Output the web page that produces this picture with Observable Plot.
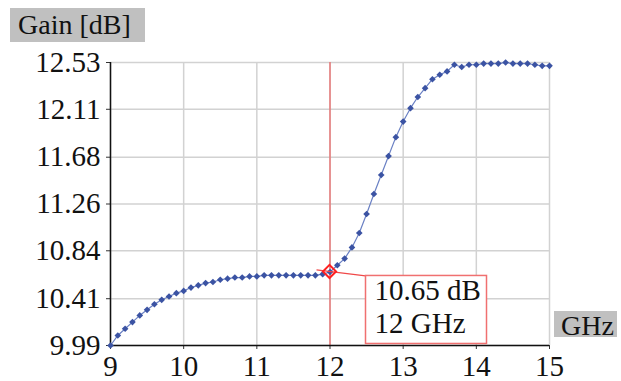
<!DOCTYPE html>
<html><head><meta charset="utf-8">
<script src="https://cdn.jsdelivr.net/npm/d3@7"></script>
<script src="https://cdn.jsdelivr.net/npm/@observablehq/plot@0.6"></script>
<style>html,body{margin:0;padding:0;background:#fff;} #chart svg{display:block;overflow:visible} #chart svg text{font-family:"Liberation Serif","Times New Roman",serif;}</style>
</head><body><div id="chart"></div>
<script>
const freqGHz = [9.0,9.1,9.2,9.3,9.4,9.5,9.6,9.7,9.8,9.9,
  10.0,10.1,10.2,10.3,10.4,10.5,10.6,10.7,10.8,10.9,
  11.0,11.1,11.2,11.3,11.4,11.5,11.6,11.7,11.8,11.9,
  12.0,12.1,12.2,12.3,12.4,12.5,12.6,12.7,12.8,12.9,
  13.0,13.1,13.2,13.3,13.4,13.5,13.6,13.7,13.8,13.9,
  14.0,14.1,14.2,14.3,14.4,14.5,14.6,14.7,14.8,14.9,15.0];
const gainDb = [9.99,10.08,10.14,10.20,10.26,10.31,10.36,10.40,10.43,10.46,
  10.48,10.51,10.53,10.55,10.56,10.58,10.59,10.60,10.60,10.61,
  10.61,10.62,10.62,10.62,10.62,10.62,10.62,10.62,10.62,10.63,
  10.65,10.71,10.77,10.87,11.00,11.17,11.35,11.52,11.69,11.86,
  12.00,12.12,12.22,12.30,12.38,12.42,12.45,12.51,12.49,12.51,
  12.51,12.52,12.52,12.52,12.53,12.52,12.52,12.52,12.51,12.50,12.50];
const xTicks = [9,10,11,12,13,14,15];
const yTicks = [9.99,10.41,10.84,11.26,11.68,12.11,12.53];
const markerFreq = 12;
const markerGain = 10.65;
const calloutLines = ["10.65 dB","12 GHz"];
const yTitle = "Gain [dB]";
const xTitle = "GHz";

const data = freqGHz.map((f,i)=>({f, g: gainDb[i]}));
const serif = "Liberation Serif, serif";

const chart = Plot.plot({
  width:621, height:381,
  marginLeft:110, marginRight:72, marginTop:62, marginBottom:36,
  style:{fontFamily:serif, fontSize:"29px", color:"#111", background:"#fff"},
  x:{domain:[9,15]},
  y:{domain:[9.99,12.53]},
  marks:[
    Plot.gridX(xTicks,{stroke:"#d2d2d2", strokeOpacity:1, strokeWidth:1.5}),
    Plot.gridY(yTicks,{stroke:"#d2d2d2", strokeOpacity:1, strokeWidth:1.5}),
    Plot.ruleX([markerFreq],{stroke:"#f04848", strokeWidth:1}),
    Plot.axisX(xTicks,{tickSize:4, tickPadding:6, label:null, tickFormat:d=>String(d), stroke:"#333"}),
    Plot.axisY(yTicks,{tickSize:4, tickPadding:6, label:null, tickFormat:d3.format(".2f"), stroke:"#333"}),
    Plot.ruleX([9],{stroke:"#111", strokeWidth:1.5}),
    Plot.ruleY([9.99],{stroke:"#111", strokeWidth:1.5}),
    Plot.line(data,{x:"f", y:"g", stroke:"#6a80c4", strokeWidth:1.2}),
    Plot.dot(data,{x:"f", y:"g", symbol:"diamond2", r:3, fill:"#3b53a3", stroke:"none"})
  ]
});
document.getElementById("chart").appendChild(chart);

const svg = d3.select(chart);
const sx = chart.scale("x"), sy = chart.scale("y");
const px = sx.apply(markerFreq), py = sy.apply(markerGain);
const bx = px + 36, by = py + 4, bw = 121, bh = 68;
const g = svg.append("g").attr("text-anchor","start");
g.append("path")
  .attr("d", `M${px-13},${py-1.5}L${bx},${by+0.5}`)
  .attr("stroke","#f04848").attr("stroke-width",1.2).attr("fill","none");
g.append("path")
  .attr("d", d3.symbol(d3.symbolDiamond2, 110)())
  .attr("transform", `translate(${px},${py})`)
  .attr("fill","none").attr("stroke","#ff2020").attr("stroke-width",2);
g.append("rect").attr("x",bx).attr("y",by).attr("width",bw).attr("height",bh)
  .attr("fill","#fff").attr("stroke","#f07070").attr("stroke-width",1.5);
calloutLines.forEach((t,i)=>{
  g.append("text").attr("x",bx+9).attr("y",by+25+i*33).attr("text-anchor","start")
    .style("font-size","29px").attr("fill","#111").text(t);
});
// axis title boxes
const yt = svg.append("g").attr("text-anchor","start");
yt.append("rect").attr("x",10).attr("y",8).attr("width",135).attr("height",34).attr("fill","#c0c0c0");
yt.append("text").attr("x",18).attr("y",34).attr("text-anchor","start").style("font-size","28px").attr("fill","#111").text(yTitle);
const xt = svg.append("g").attr("text-anchor","start");
xt.append("rect").attr("x",554).attr("y",311).attr("width",63).attr("height",26).attr("fill","#c0c0c0");
xt.append("text").attr("x",561).attr("y",335).attr("text-anchor","start").style("font-size","28px").attr("fill","#111").text(xTitle);
svg.selectAll("text").style("font-family","'Liberation Serif', serif");
</script>
</body></html>
